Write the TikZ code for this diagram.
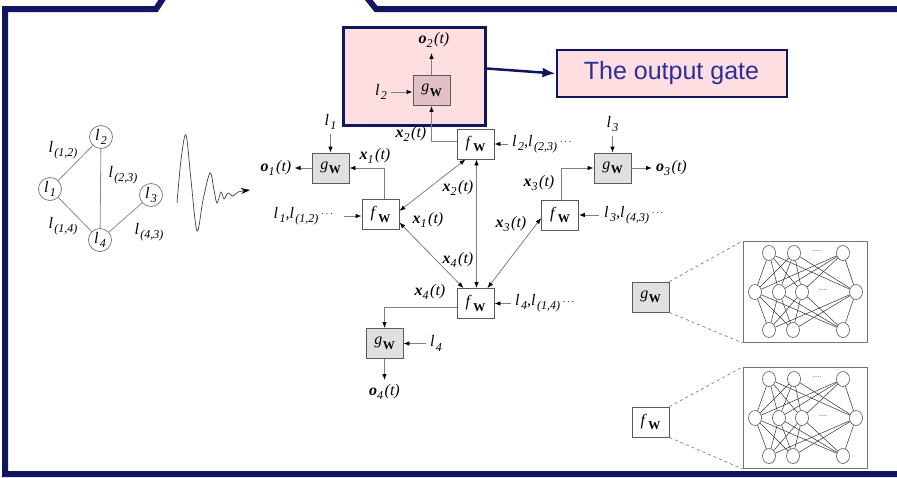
\documentclass[tikz,border=0pt]{standalone}
\usepackage{fontspec}
\setmainfont{Liberation Serif}
\setsansfont{Liberation Sans}
\usetikzlibrary{arrows.meta,shapes.geometric,calc}
\definecolor{navy}{RGB}{18,22,94}
\definecolor{pinkbg}{RGB}{255,222,226}
\definecolor{gatefill}{RGB}{226,192,197}
\definecolor{txtblue}{RGB}{42,46,150}
\newcommand{\sbs}[1]{\raisebox{-0.6ex}{\fontsize{12}{12}\selectfont\itshape #1}}
\newcommand{\lv}[1]{\textit{l}\kern1.5pt\sbs{#1}}
\newcommand{\xv}[1]{\textbf{\textit{x}}\sbs{#1}\kern1.5pt\textit{(t)}}
\newcommand{\ov}[1]{\textbf{\textit{o}}\sbs{#1}\kern1.5pt\textit{(t)}}
\newcommand{\gW}{\textit{g}\kern0.5pt\raisebox{-0.6ex}{\fontsize{12}{12}\selectfont\bfseries W}}
\newcommand{\fW}{\textit{f}\kern1.5pt\raisebox{-0.6ex}{\fontsize{12}{12}\selectfont\bfseries W}}
\newcommand{\ddd}{\,\raisebox{0.2ex}{\fontsize{10}{10}\selectfont$\cdots$}}
\tikzset{
  every node/.style={font=\fontsize{16}{16}\selectfont, inner sep=0pt},
  fbx/.style={draw=black!65, fill=white, line width=0.8pt, minimum width=37pt, minimum height=30pt},
  gbx/.style={fbx, fill=black!12},
  arr/.style={-{Latex[length=6pt,width=4.5pt,black]}},
  conn/.style={draw=black!50, line width=0.8pt, arr},
  bic/.style={draw=black!50, line width=0.8pt, {Latex[length=6pt,width=4.5pt,black]}-{Latex[length=6pt,width=4.5pt,black]}},
  gedge/.style={draw=black!45, line width=0.8pt},
  gcirc/.style={circle, draw=black!50, line width=0.8pt, minimum size=23pt},
  neuron/.style={ellipse, draw=black!65, fill=white, line width=0.6pt, minimum width=13pt, minimum height=15pt},
  nnedge/.style={draw=black!80, line width=0.5pt},
  nnbox/.style={draw=black!55, line width=0.9pt, minimum width=124pt, minimum height=101pt},
  dsh/.style={draw=black!50, dashed, line width=0.7pt},
  frame/.style={draw=navy, line width=6pt, line join=miter},
}
\begin{document}
\begin{tikzpicture}[x=1pt,y=-1pt]
\useasboundingbox (0,0) rectangle (897,477);
\fill[white] (0,0) rectangle (897,477);

% ---- left graph
\node[gcirc] (c1) at (50,189) {\lv{1}};
\node[gcirc] (c2) at (101,137) {\lv{2}};
\node[gcirc] (c3) at (151,195) {\lv{3}};
\node[gcirc] (c4) at (100,240) {\lv{4}};
\draw[gedge] (c1) -- (c2);
\draw[gedge] (c2) -- (c4);
\draw[gedge] (c1) -- (c4);
\draw[gedge] (c3) -- (c4);
\node (e12) at (63,150) {\lv{(1,2)}};
\node (e23) at (123,175) {\lv{(2,3)}};
\node (e14) at (63,226) {\lv{(1,4)}};
\node (e43) at (149,232) {\lv{(4,3)}};

% ---- wave
\draw[line width=0.7pt, black!75, -{Stealth[length=9pt,width=6pt,black]}]
  plot[smooth, tension=0.55] coordinates {(177,203) (181,160) (186,135) (191,180) (197,231) (203,200) (210,173) (214,190) (217,203) (221,192) (224,199) (228,193) (233,196) (238,192) (250,190)};

% ---- output gate callout
\node[draw=navy, line width=2.5pt, fill=pinkbg, minimum width=142pt, minimum height=98pt] (gate) at (414.5,76.5) {};
\node[gbx, fill=gatefill] (g2) at (431.5,90.5) {\gW};
\node (o2) at (434,40) {\ov{2}};
\node (l2) at (381,92) {\lv{2}};
\node[draw=navy, line width=2pt, fill=pinkbg, minimum width=230pt, minimum height=47pt,
      font=\sffamily\fontsize{25}{25}\selectfont, text=txtblue] (og) at (671.5,73.5) {The output gate};
\draw[navy, line width=2.5pt, -{Latex[length=13pt,width=10pt]}] ([yshift=8pt]gate.east) -- (og.west);

% ---- main network nodes
\node[fbx] (f2) at (475.5,144) {\fW};
\node[fbx] (f1) at (380.5,214.5) {\fW};
\node[fbx] (f3) at (560,215) {\fW};
\node[fbx] (f4) at (475.5,303.5) {\fW};
\node[gbx] (g1) at (330.5,168) {\gW};
\node[gbx] (g3) at (612.5,168) {\gW};
\node[gbx] (g4) at (384.5,343.5) {\gW};

% labels
\node (x2a) at (411,134) {\xv{2}};
\node[anchor=west] (in2) at (512,144) {\lv{2}\textit{,}\lv{(2,3)}\ddd};
\node (l1) at (330.5,122) {\lv{1}};
\node (o1) at (276,168) {\ov{1}};
\node (x1a) at (375,156) {\xv{1}};
\node[anchor=east] (in1) at (333,216) {\lv{1}\textit{,}\lv{(1,2)}\ddd};
\node (l3) at (612.5,124) {\lv{3}};
\node[anchor=west] (o3) at (656,168) {\ov{3}};
\node (x3a) at (539,183) {\xv{3}};
\node[anchor=west] (in3) at (604,215) {\lv{3}\textit{,}\lv{(4,3)}\ddd};
\node (x4a) at (430,292) {\xv{4}};
\node[anchor=west] (in4) at (515,303.5) {\lv{4}\textit{,}\lv{(1,4)}\ddd};
\node (l4) at (436,343.5) {\lv{4}};
\node (o4) at (384.5,392) {\ov{4}};
\node (x2b) at (458,188) {\xv{2}};
\node (x1b) at (428,220) {\xv{1}};
\node (x4b) at (458,260) {\xv{4}};
\node (x3b) at (511,224) {\xv{3}};

% connectors
\draw[conn] ([yshift=3pt]f2.west) -| (g2.south);
\draw[conn, shorten >=5pt] (g2.north) -- (g2.north |- o2.south);
\draw[conn, shorten <=4pt] (l2.east) -- (l2.east -| g2.west);
\draw[conn, shorten <=4pt] (in2.west) -- (in2.west -| f2.east);
\draw[conn] ([xshift=4pt]f1.north) |- (g1.east);
\draw[conn, shorten >=3pt] (g1.west) -- (g1.west -| o1.east);
\draw[conn, shorten <=4pt] (l1.south) -- (l1.south |- g1.north);
\draw[conn, shorten <=11pt] (in1.east) -- (in1.east -| f1.west);
\draw[conn] ([xshift=1pt]f3.north) |- (g3.west);
\draw[conn, shorten >=4pt] (g3.east) -- (g3.east -| o3.west);
\draw[conn, shorten <=4pt] (l3.south) -- (l3.south |- g3.north);
\draw[conn, shorten <=5pt] (in3.west) -- (in3.west -| f3.east);
\draw[conn] ([yshift=-4pt]f4.west) -| (g4.north);
\draw[conn, shorten <=4pt] (l4.west) -- (l4.west -| g4.east);
\draw[conn, shorten >=4pt] (g4.south) -- (g4.south |- o4.north);
\draw[conn, shorten <=4pt] (in4.west) -- (in4.west -| f4.east);
\draw[bic] ([xshift=-10pt]f2.south) -- ([yshift=3.5pt]f1.east);
\draw[bic] ([yshift=-8pt]f1.east) -- ([xshift=-12pt]f4.north);
\draw[bic] ([xshift=1pt]f2.south) -- ([xshift=1pt]f4.north);
\draw[bic] ([yshift=-3pt]f3.west) -- ([xshift=12pt]f4.north);

% ---- side boxes and neural nets
\node[gbx] (gs) at (650.5,297) {\gW};
\node[fbx] (fs) at (650.5,422) {\fW};
\foreach \nm/\cy in {g/292,f/418}{
  \node[nnbox] (\nm nn) at (805,\cy) {};
  \foreach \i/\x in {1/769,2/794,3/843} \node[neuron] (\nm t\i) at (\x,\cy-39) {};
  \foreach \i/\x in {1/755,2/779,3/802,4/856} \node[neuron] (\nm m\i) at (\x,\cy) {};
  \foreach \i/\x in {1/769,2/793,3/843} \node[neuron] (\nm b\i) at (\x,\cy+38) {};
  \foreach \j in {1,2,3,4}{
    \foreach \i in {1,2,3}{
      \draw[nnedge] (\nm m\j) -- (\nm t\i);
      \draw[nnedge] (\nm m\j) -- (\nm b\i);
    }
  }
  \node[font=\fontsize{7}{7}\selectfont, text=black!75] (\nm dt) at (817,\cy-41) {.....};
  \node[font=\fontsize{7}{7}\selectfont, text=black!75] (\nm dm) at (823,\cy-2) {.....};
}
\draw[dsh] (gs.north east) -- (gnn.north west);
\draw[dsh] (gs.south east) -- (gnn.south west);
\draw[dsh] (fs.north east) -- (fnn.north west);
\draw[dsh] (fs.south east) -- (fnn.south west);

% ---- frame
\draw[frame] (166,-6) -- (156,9) -- (5,9) -- (5,474) -- (903,474);
\draw[frame] (364,-6) -- (376,9) -- (903,9);
\end{tikzpicture}
\end{document}
